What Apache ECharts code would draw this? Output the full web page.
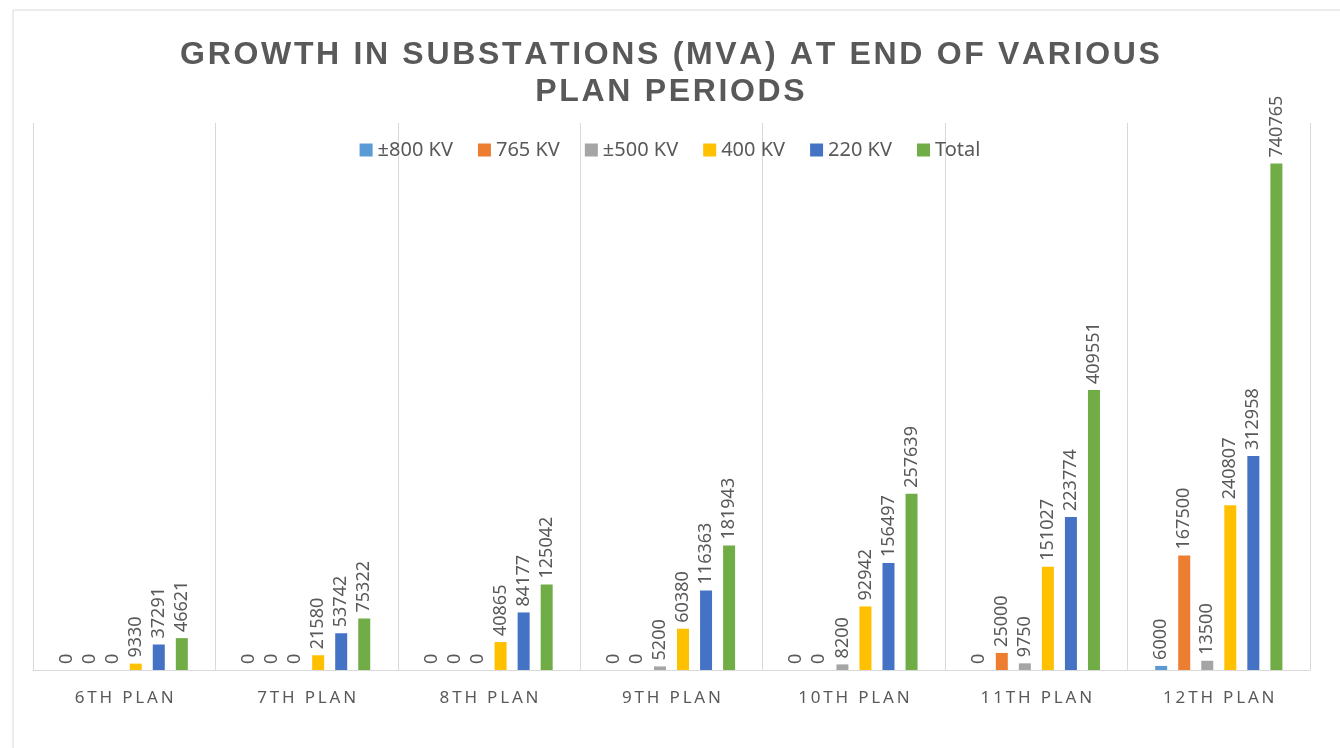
<!DOCTYPE html>
<html>
<head>
<meta charset="utf-8">
<script src="https://cdn.jsdelivr.net/npm/echarts@6/dist/echarts.min.js"></script>
<style>
  html, body { margin: 0; padding: 0; background: #fff; }
  #chart { width: 1340px; height: 748px; }
</style>
</head>
<body>
<div id="chart"></div>
<script>
"use strict"

const categories = ["6TH PLAN", "7TH PLAN", "8TH PLAN", "9TH PLAN", "10TH PLAN", "11TH PLAN", "12TH PLAN"]
const seriesNames = ["±800 KV", "765 KV", "±500 KV", "400 KV", "220 KV", "Total"]
const kv800 = [0, 0, 0, 0, 0, 0, 6000]
const kv765 = [0, 0, 0, 0, 0, 25000, 167500]
const kv500 = [0, 0, 0, 5200, 8200, 9750, 13500]
const kv400 = [9330, 21580, 40865, 60380, 92942, 151027, 240807]
const kv220 = [37291, 53742, 84177, 116363, 156497, 223774, 312958]
const total = [46621, 75322, 125042, 181943, 257639, 409551, 740765]
const colors = ["#5B9BD5", "#ED7D31", "#A5A5A5", "#FFC000", "#4472C4", "#70AD47"]

const titleLines = ["GROWTH IN SUBSTATIONS (MVA) AT END OF VARIOUS", "PLAN PERIODS"]

// fake letter spacing with thin / hair spaces
const spaced = (s, sp) => s.split("").join(sp)

const values = [kv800, kv765, kv500, kv400, kv220, total]

const chart = echarts.init(document.getElementById("chart"), null, { renderer: "canvas" })

const option = {
  animation: false,
  color: colors,
  textStyle: { fontFamily: "Noto Sans" },
  graphic: [{
    type: "rect",
    shape: { x: 13, y: 10, width: 1340, height: 745 },
    style: { fill: "none", stroke: "#d9d9d9", lineWidth: 1 },
    silent: true,
  }],
  title: {
    text: titleLines.map((l) => spaced(l, "\u200A")).join("\n"),
    left: "center",
    top: 32,
    textStyle: {
      fontFamily: "Liberation Sans",
      fontWeight: "bold",
      fontSize: 32,
      lineHeight: 37,
      color: "#595959",
    },
  },
  legend: {
    top: 135,
    left: "center",
    itemWidth: 13,
    itemHeight: 13,
    itemGap: 25,
    icon: "rect",
    textStyle: { fontSize: 20, color: "#595959", fontFamily: "Noto Sans" },
    data: seriesNames,
  },
  grid: { left: 33, right: 30, top: 123, bottom: 78, containLabel: false },
  xAxis: {
    type: "category",
    data: categories,
    axisLine: { lineStyle: { color: "#d9d9d9" } },
    axisTick: { show: false },
    splitLine: { show: true, lineStyle: { color: "#d9d9d9" } },
    axisLabel: {
      margin: 20,
      fontSize: 17,
      color: "#595959",
      formatter: (v) => spaced(v, "\u2009"),
    },
  },
  yAxis: {
    type: "value",
    min: 0,
    max: 800000,
    show: false,
    splitLine: { show: false },
  },
  series: seriesNames.map((name, i) => ({
    name: name,
    type: "bar",
    data: values[i],
    barWidth: 12,
    barGap: "92%",
    itemStyle: { color: colors[i] },
    label: {
      show: true,
      position: "top",
      rotate: 90,
      align: "left",
      verticalAlign: "middle",
      distance: 6,
      fontSize: 18,
      color: "#595959",
      fontFamily: "Noto Sans",
    },
  })),
}

chart.setOption(option)
</script>
</body>
</html>
